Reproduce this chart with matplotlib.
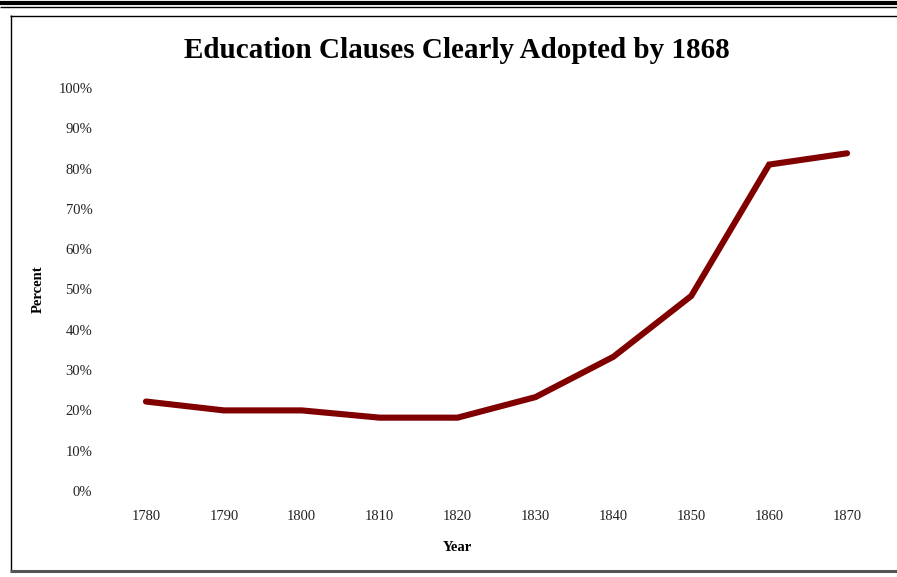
import matplotlib
matplotlib.use("Agg")
import matplotlib.pyplot as plt
from matplotlib.lines import Line2D
from matplotlib.ticker import PercentFormatter

years = [1780, 1790, 1800, 1810, 1820, 1830, 1840, 1850, 1860, 1870]
share_adopted = [22.2, 20.0, 20.0, 18.2, 18.2, 23.3, 33.3, 48.4, 81.0, 83.8]
y_ticks = list(range(0, 101, 10))

plt.rcParams['font.family'] = ['Liberation Serif', 'DejaVu Serif']

W, H = 897, 577
fig = plt.figure(figsize=(W / 100, H / 100), dpi=100)
fig.patch.set_facecolor('white')


def px(x, y):
    return x / W, 1 - y / H


# page rules above the chart, then the chart frame
def rule(x0, y0, x1, y1, lw, color='black'):
    (a, b), (c, d) = px(x0, y0), px(x1, y1)
    fig.add_artist(Line2D([a, c], [b, d], transform=fig.transFigure,
                          color=color, linewidth=lw, solid_capstyle='butt'))


rule(0, 3, W, 3, 3.0)
rule(0, 6.8, W, 6.8, 1.0)
rule(10, 15.5, W, 15.5, 1.0)
rule(10.5, 15, 10.5, 571, 1.0)
rule(10, 571, W, 571, 2.2, color='#555555')

l, t = px(107, 88)
r, b = px(886, 491)
ax = fig.add_axes([l, b, r - l, t - b])

ax.plot(years, share_adopted, color='#800000', linewidth=4.4,
        solid_capstyle='round', solid_joinstyle='miter')

ax.set_xlim(1775, 1875)
ax.set_ylim(0, 100)
ax.set_xticks(years)
ax.set_yticks(y_ticks)
ax.yaxis.set_major_formatter(PercentFormatter(decimals=0))
ax.tick_params(axis='both', length=0, labelsize=10.5, colors='#222222')
ax.tick_params(axis='x', pad=14)
ax.tick_params(axis='y', pad=10.5)
for s in ax.spines.values():
    s.set_visible(False)

ax.set_xlabel('Year', fontsize=10.5, fontweight='bold')
ax.xaxis.set_label_coords((457 - 107) / (886 - 107), -0.125)
ax.set_ylabel('Percent', fontsize=10.5, fontweight='bold', labelpad=10)

fig.text(457 / W, 1 - 51 / H, 'Education Clauses Clearly Adopted by 1868',
         ha='center', va='center', fontsize=21, fontweight='bold')

fig.savefig('out.png', dpi=100)
